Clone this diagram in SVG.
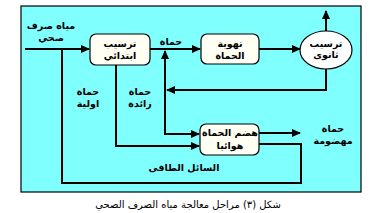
<svg xmlns="http://www.w3.org/2000/svg" width="373" height="213" viewBox="0 0 373 213">
<defs>
<marker id="ah" markerUnits="userSpaceOnUse" markerWidth="9" markerHeight="8" refX="8" refY="4" orient="auto">
<path d="M0,0 L9,4 L0,8 z" fill="#000"/>
</marker>
<style>
.lbl{font-family:"DejaVu Sans",sans-serif;font-size:9.5px;font-weight:bold;fill:#000;text-anchor:middle;direction:rtl}
.cap{font-family:"DejaVu Sans",sans-serif;font-size:10px;fill:#000;text-anchor:middle;direction:rtl}
.box{fill:#FFFFF4;stroke:#000;stroke-width:1.2}
.con{fill:none;stroke:#000;stroke-width:2}
</style>
</defs>
<rect x="21" y="6" width="340" height="186" fill="#80FFFF" stroke="#000" stroke-width="1.2"/>
<g id="connectors">
<path class="con" d="M25,49 H89" marker-end="url(#ah)"/>
<path class="con" d="M150,49 H200" marker-end="url(#ah)"/>
<path class="con" d="M259,49 H300" marker-end="url(#ah)"/>
<path class="con" d="M326,31 V11" marker-end="url(#ah)"/>
<path class="con" d="M326,69 V90 H167" marker-end="url(#ah)"/>
<path class="con" d="M165,92 V51" marker-end="url(#ah)"/>
<path class="con" d="M165,88 V134 H199" marker-end="url(#ah)"/>
<path class="con" d="M116,65 V146 H199" marker-end="url(#ah)"/>
<path class="con" d="M259,133 H300" marker-end="url(#ah)"/>
<path class="con" d="M259,144 H301 V183 H62 V49"/>
</g>
<g id="input">
<text class="lbl" x="51" y="29">مياه صرف</text>
<text class="lbl" x="51" y="41">صحي</text>
</g>
<g id="primary">
<rect class="box" x="90" y="34" width="60" height="31" rx="6"/>
<text class="lbl" x="120" y="47">ترسيب</text>
<text class="lbl" x="120" y="59">ابتدائي</text>
</g>
<g id="sludge-label">
<text class="lbl" x="171" y="45">حماة</text>
</g>
<g id="aeration">
<rect class="box" x="201" y="34" width="58" height="30" rx="6"/>
<text class="lbl" x="230" y="47">تهوية</text>
<text class="lbl" x="230" y="59">الحماة</text>
</g>
<g id="secondary">
<ellipse cx="326" cy="50" rx="26" ry="19" fill="#FFFFFF" stroke="#000" stroke-width="1.2"/>
<text class="lbl" x="326" y="47">ترسيب</text>
<text class="lbl" x="326" y="58">ثانوى</text>
</g>
<g id="primary-sludge">
<text class="lbl" x="88" y="95">حماة</text>
<text class="lbl" x="88" y="107">اولية</text>
</g>
<g id="excess-sludge">
<text class="lbl" x="140" y="95">حماة</text>
<text class="lbl" x="140" y="107">زائدة</text>
</g>
<g id="digestion">
<rect class="box" x="200" y="124" width="59" height="31" rx="6"/>
<text class="lbl" x="230" y="136">هضم الحماة</text>
<text class="lbl" x="230" y="149">هوائيا</text>
</g>
<g id="digested">
<text class="lbl" x="333" y="132">حماة</text>
<text class="lbl" x="333" y="144">مهضومة</text>
</g>
<g id="supernatant">
<text class="lbl" x="184" y="171">السائل الطافى</text>
</g>
<text class="cap" x="188" y="208">شكل (٣) مراحل معالجة مياه الصرف الصحي</text>
</svg>
